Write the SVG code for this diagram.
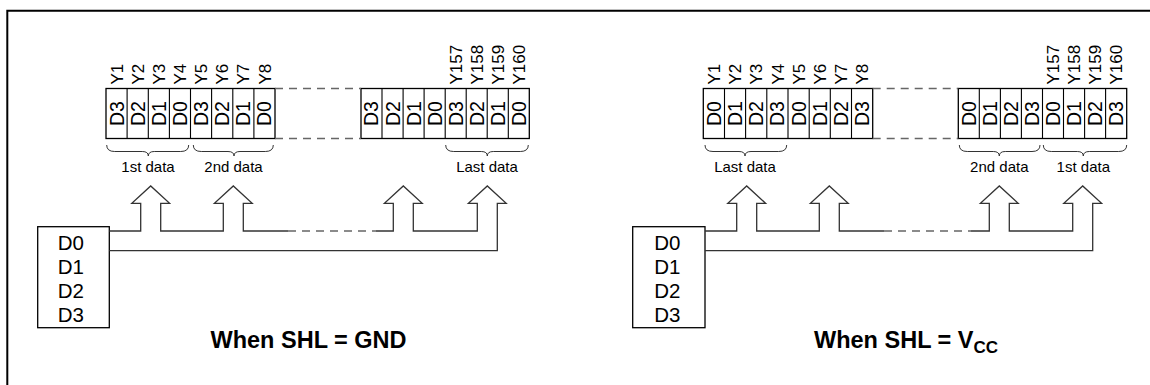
<svg xmlns="http://www.w3.org/2000/svg" width="1150" height="385" viewBox="0 0 1150 385">
<style>
text{font-family:"Liberation Sans",Arial,sans-serif;fill:#000}
.cell{font-size:19.5px;text-anchor:middle}
.ylab{font-size:17px}
.blab{font-size:15px;text-anchor:middle}
.dlab{font-size:20.5px}
.cap{font-size:23.5px;font-weight:bold}
.reg{fill:#fff;stroke:#000;stroke-width:1.3}
.div{stroke:#000;stroke-width:1.1}
.dash{stroke:#666;stroke-width:1.3;stroke-dasharray:8 6;fill:none}
.brace{fill:none;stroke:#333;stroke-width:1}
.bus{fill:none;stroke:#333;stroke-width:1.3;stroke-linejoin:miter}
.box{fill:#fff;stroke:#000;stroke-width:1.3}
</style>
<path d="M7.3,385 V10.7 H1150" fill="none" stroke="#000" stroke-width="2"/>

<!-- LEFT: SHL = GND -->
<g id="left-register">
  <rect class="reg" x="106" y="88.5" width="169" height="50"/>
  <path class="div" d="M127.1,88.5V138.5M148.3,88.5V138.5M169.4,88.5V138.5M190.5,88.5V138.5M211.6,88.5V138.5M232.8,88.5V138.5M253.9,88.5V138.5"/>
  <rect class="reg" x="361" y="88.5" width="168.3" height="50"/>
  <path class="div" d="M382,88.5V138.5M403.1,88.5V138.5M424.1,88.5V138.5M445.2,88.5V138.5M466.2,88.5V138.5M487.2,88.5V138.5M508.3,88.5V138.5"/>
  <path class="dash" d="M275,88.5H361M275,138.5H361"/>
  <text class="cell" transform="rotate(-90 123.5 113.5)" x="123.5" y="113.5">D3</text>
  <text class="cell" transform="rotate(-90 144.6 113.5)" x="144.6" y="113.5">D2</text>
  <text class="cell" transform="rotate(-90 165.7 113.5)" x="165.7" y="113.5">D1</text>
  <text class="cell" transform="rotate(-90 186.9 113.5)" x="186.9" y="113.5">D0</text>
  <text class="cell" transform="rotate(-90 208 113.5)" x="208" y="113.5">D3</text>
  <text class="cell" transform="rotate(-90 229.1 113.5)" x="229.1" y="113.5">D2</text>
  <text class="cell" transform="rotate(-90 250.2 113.5)" x="250.2" y="113.5">D1</text>
  <text class="cell" transform="rotate(-90 271.3 113.5)" x="271.3" y="113.5">D0</text>
  <text class="cell" transform="rotate(-90 378.4 113.5)" x="378.4" y="113.5">D3</text>
  <text class="cell" transform="rotate(-90 399.5 113.5)" x="399.5" y="113.5">D2</text>
  <text class="cell" transform="rotate(-90 420.5 113.5)" x="420.5" y="113.5">D1</text>
  <text class="cell" transform="rotate(-90 441.5 113.5)" x="441.5" y="113.5">D0</text>
  <text class="cell" transform="rotate(-90 462.6 113.5)" x="462.6" y="113.5">D3</text>
  <text class="cell" transform="rotate(-90 483.6 113.5)" x="483.6" y="113.5">D2</text>
  <text class="cell" transform="rotate(-90 504.7 113.5)" x="504.7" y="113.5">D1</text>
  <text class="cell" transform="rotate(-90 525.7 113.5)" x="525.7" y="113.5">D0</text>
  <text class="ylab" transform="rotate(-90 122.7 84.5)" x="122.7" y="84.5">Y1</text>
  <text class="ylab" transform="rotate(-90 143.8 84.5)" x="143.8" y="84.5">Y2</text>
  <text class="ylab" transform="rotate(-90 164.9 84.5)" x="164.9" y="84.5">Y3</text>
  <text class="ylab" transform="rotate(-90 186.1 84.5)" x="186.1" y="84.5">Y4</text>
  <text class="ylab" transform="rotate(-90 207.2 84.5)" x="207.2" y="84.5">Y5</text>
  <text class="ylab" transform="rotate(-90 228.3 84.5)" x="228.3" y="84.5">Y6</text>
  <text class="ylab" transform="rotate(-90 249.4 84.5)" x="249.4" y="84.5">Y7</text>
  <text class="ylab" transform="rotate(-90 270.5 84.5)" x="270.5" y="84.5">Y8</text>
  <text class="ylab" transform="rotate(-90 461.8 84.5)" x="461.8" y="84.5">Y157</text>
  <text class="ylab" transform="rotate(-90 482.8 84.5)" x="482.8" y="84.5">Y158</text>
  <text class="ylab" transform="rotate(-90 503.9 84.5)" x="503.9" y="84.5">Y159</text>
  <text class="ylab" transform="rotate(-90 524.9 84.5)" x="524.9" y="84.5">Y160</text>
</g>
<g id="left-brackets">
  <path class="brace" d="M106.7,145 Q106.7,151.5 114.7,151.5 H142.3 Q148.3,151.5 148.3,156 Q148.3,151.5 154.3,151.5 H180.7 Q188.7,151.5 188.7,145"/>
  <path class="brace" d="M193.3,145 Q193.3,151.5 201.3,151.5 H228 Q234,151.5 234,156 Q234,151.5 240,151.5 H265.3 Q273.3,151.5 273.3,145"/>
  <path class="brace" d="M445.7,145 Q445.7,151.5 453.7,151.5 H481.3 Q487.3,151.5 487.3,156 Q487.3,151.5 493.3,151.5 H520.3 Q528.3,151.5 528.3,145"/>
  <text class="blab" x="148" y="171.7">1st data</text>
  <text class="blab" x="233.5" y="171.7">2nd data</text>
  <text class="blab" x="487" y="171.7">Last data</text>
</g>
<g id="left-source">
  <rect class="box" x="37.7" y="226.7" width="71.6" height="101"/>
  <text class="dlab" x="57.7" y="250">D0</text>
  <text class="dlab" x="57.7" y="274.3">D1</text>
  <text class="dlab" x="57.7" y="298">D2</text>
  <text class="dlab" x="57.7" y="321.7">D3</text>
</g>
<g id="left-connectors">
  <path class="bus" d="M109.3,231 H140.7 V203.3 H131.8 L150.7,186 L169.6,203.3 H160.7 V231 H223.3 V203.3 H214.4 L233.3,186 L252.2,203.3 H243.3 V231 H288"/>
  <path class="dash" d="M288,231 H376"/>
  <path class="bus" d="M376,231 H393.3 V203.3 H384.4 L403.3,186 L422.2,203.3 H413.3 V231 H477.3 V203.3 H468.4 L487.3,186 L506.2,203.3 H497.3 V250.7 H109.3"/>
</g>
<text id="left-caption" class="cap" x="210.5" y="348.3">When SHL = GND</text>

<!-- RIGHT: SHL = VCC -->
<g id="right-register">
  <rect class="reg" x="703.3" y="88.5" width="169.4" height="50"/>
  <path class="div" d="M724.5,88.5V138.5M745.6,88.5V138.5M766.8,88.5V138.5M788,88.5V138.5M809.2,88.5V138.5M830.3,88.5V138.5M851.5,88.5V138.5"/>
  <rect class="reg" x="958.3" y="88.5" width="168.4" height="50"/>
  <path class="div" d="M979.3,88.5V138.5M1000.4,88.5V138.5M1021.4,88.5V138.5M1042.5,88.5V138.5M1063.5,88.5V138.5M1084.6,88.5V138.5M1105.6,88.5V138.5"/>
  <path class="dash" d="M872.7,88.5H958.3M872.7,138.5H958.3"/>
  <text class="cell" transform="rotate(-90 720.8 113.5)" x="720.8" y="113.5">D0</text>
  <text class="cell" transform="rotate(-90 742 113.5)" x="742" y="113.5">D1</text>
  <text class="cell" transform="rotate(-90 763.1 113.5)" x="763.1" y="113.5">D2</text>
  <text class="cell" transform="rotate(-90 784.3 113.5)" x="784.3" y="113.5">D3</text>
  <text class="cell" transform="rotate(-90 805.5 113.5)" x="805.5" y="113.5">D0</text>
  <text class="cell" transform="rotate(-90 826.7 113.5)" x="826.7" y="113.5">D1</text>
  <text class="cell" transform="rotate(-90 847.8 113.5)" x="847.8" y="113.5">D2</text>
  <text class="cell" transform="rotate(-90 869 113.5)" x="869" y="113.5">D3</text>
  <text class="cell" transform="rotate(-90 975.7 113.5)" x="975.7" y="113.5">D0</text>
  <text class="cell" transform="rotate(-90 996.8 113.5)" x="996.8" y="113.5">D1</text>
  <text class="cell" transform="rotate(-90 1017.8 113.5)" x="1017.8" y="113.5">D2</text>
  <text class="cell" transform="rotate(-90 1038.9 113.5)" x="1038.9" y="113.5">D3</text>
  <text class="cell" transform="rotate(-90 1059.9 113.5)" x="1059.9" y="113.5">D0</text>
  <text class="cell" transform="rotate(-90 1081 113.5)" x="1081" y="113.5">D1</text>
  <text class="cell" transform="rotate(-90 1102 113.5)" x="1102" y="113.5">D2</text>
  <text class="cell" transform="rotate(-90 1123.1 113.5)" x="1123.1" y="113.5">D3</text>
  <text class="ylab" transform="rotate(-90 720 84.5)" x="720" y="84.5">Y1</text>
  <text class="ylab" transform="rotate(-90 741.2 84.5)" x="741.2" y="84.5">Y2</text>
  <text class="ylab" transform="rotate(-90 762.3 84.5)" x="762.3" y="84.5">Y3</text>
  <text class="ylab" transform="rotate(-90 783.5 84.5)" x="783.5" y="84.5">Y4</text>
  <text class="ylab" transform="rotate(-90 804.7 84.5)" x="804.7" y="84.5">Y5</text>
  <text class="ylab" transform="rotate(-90 825.9 84.5)" x="825.9" y="84.5">Y6</text>
  <text class="ylab" transform="rotate(-90 847 84.5)" x="847" y="84.5">Y7</text>
  <text class="ylab" transform="rotate(-90 868.2 84.5)" x="868.2" y="84.5">Y8</text>
  <text class="ylab" transform="rotate(-90 1059.1 84.5)" x="1059.1" y="84.5">Y157</text>
  <text class="ylab" transform="rotate(-90 1080.2 84.5)" x="1080.2" y="84.5">Y158</text>
  <text class="ylab" transform="rotate(-90 1101.2 84.5)" x="1101.2" y="84.5">Y159</text>
  <text class="ylab" transform="rotate(-90 1122.3 84.5)" x="1122.3" y="84.5">Y160</text>
</g>
<g id="right-brackets">
  <path class="brace" d="M705,145 Q705,151.5 713,151.5 H739 Q745,151.5 745,156 Q745,151.5 751,151.5 H778.7 Q786.7,151.5 786.7,145"/>
  <path class="brace" d="M959.3,145 Q959.3,151.5 967.3,151.5 H993.3 Q999.3,151.5 999.3,156 Q999.3,151.5 1005.3,151.5 H1032 Q1040,151.5 1040,145"/>
  <path class="brace" d="M1043.3,145 Q1043.3,151.5 1051.3,151.5 H1077.3 Q1083.3,151.5 1083.3,156 Q1083.3,151.5 1089.3,151.5 H1118.7 Q1126.7,151.5 1126.7,145"/>
  <text class="blab" x="745" y="171.7">Last data</text>
  <text class="blab" x="999.3" y="171.7">2nd data</text>
  <text class="blab" x="1083.3" y="171.7">1st data</text>
</g>
<g id="right-source">
  <rect class="box" x="632.7" y="226.7" width="72.3" height="101"/>
  <text class="dlab" x="654.3" y="250">D0</text>
  <text class="dlab" x="654.3" y="274.3">D1</text>
  <text class="dlab" x="654.3" y="298">D2</text>
  <text class="dlab" x="654.3" y="321.7">D3</text>
</g>
<g id="right-connectors">
  <path class="bus" d="M705,231 H736.7 V203.3 H727.8 L746.7,186 L765.6,203.3 H756.7 V231 H819.3 V203.3 H810.4 L829.3,186 L848.2,203.3 H839.3 V231 H884"/>
  <path class="dash" d="M884,231 H971"/>
  <path class="bus" d="M971,231 H989.3 V203.3 H980.4 L999.3,186 L1018.2,203.3 H1009.3 V231 H1072.7 V203.3 H1063.8 L1082.7,186 L1101.6,203.3 H1092.7 V250.7 H705"/>
</g>
<text id="right-caption" class="cap" x="814" y="348.3">When SHL = V<tspan font-size="17" dy="5">CC</tspan></text>
</svg>
